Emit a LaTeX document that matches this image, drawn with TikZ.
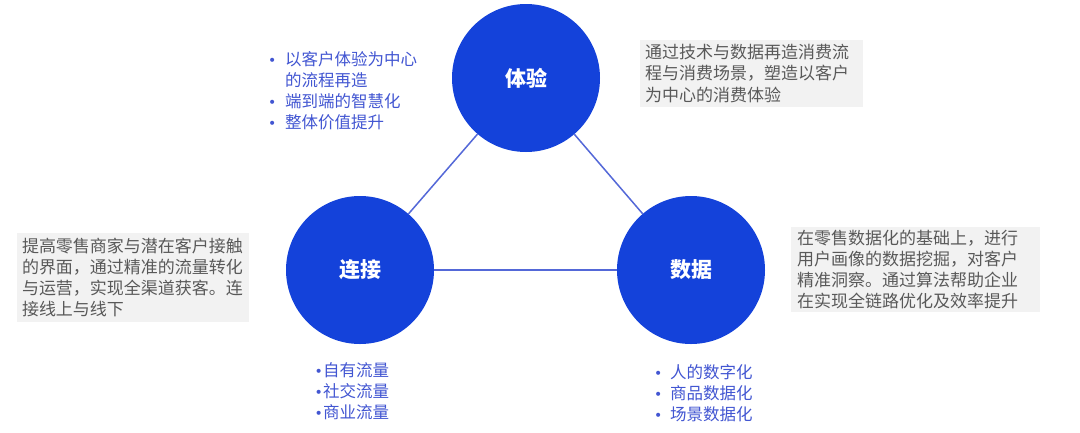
\documentclass[tikz,border=0pt]{standalone}
\usepackage{fontspec}
\setmainfont{Noto Sans CJK SC}
\newfontfamily\bulfont{DejaVu Sans}
\usetikzlibrary{positioning}
\definecolor{hubblue}{RGB}{20,66,218}
\definecolor{linkblue}{RGB}{84,104,216}
\definecolor{listblue}{RGB}{66,86,210}
\definecolor{notegray}{RGB}{242,242,242}
\definecolor{notetext}{RGB}{89,89,89}
\newcommand{\bul}[1]{\makebox[#1][c]{\bulfont\fontsize{14}{14}\selectfont •}}

\begin{document}
\begin{tikzpicture}[
    x=1pt, y=-1pt,
    hub/.style={circle, fill=hubblue, minimum size=148pt, inner sep=0pt,
                text=white, font=\fontsize{21}{21}\selectfont\bfseries},
    note/.style={rectangle, fill=notegray, text=notetext, align=left,
                inner xsep=5pt, inner ysep=0pt, font=\fontsize{17}{21.2}\selectfont},
    pts/.style={anchor=north west, align=left, inner sep=0pt, text=listblue,
                font=\fontsize{16.5}{21}\selectfont},
    link/.style={draw=linkblue, line width=1.5pt}
]
\useasboundingbox (0,0) rectangle (1080,432);
\fill[white] (0,0) rectangle (1080,432);

\node[hub] (exp) at (526,78) {体验};
\node[hub] (conn) at (360,270) {连接};
\node[hub] (data) at (691,270) {数据};

\draw[link] (exp) -- (conn);
\draw[link] (exp) -- (data);
\draw[link] (conn) -- (data);

\node[note, text width=213pt, minimum height=67pt] (expnote) at (751.5,73.5)
  {通过技术与数据再造消费流\\程与消费场景，塑造以客户\\为中心的消费体验};
\node[note, text width=222pt, minimum height=89pt] (connnote) at (133,277.5)
  {提高零售商家与潜在客户接触\\的界面，通过精准的流量转化\\与运营，实现全渠道获客。连\\接线上与线下};
\node[note, inner xsep=6pt, text width=237pt, minimum height=85pt] (datanote) at (915.5,269.5)
  {在零售数据化的基础上，进行\\用户画像的数据挖掘，对客户\\精准洞察。通过算法帮助企业\\在实现全链路优化及效率提升};

\node[pts] (exppts) at (259,51)
  {\bul{26pt}以客户体验为中心\\\hspace*{26pt}的流程再造\\\bul{26pt}端到端的智慧化\\\bul{26pt}整体价值提升};
\node[pts] (connpts) at (314,362.5)
  {\bul{9pt}自有流量\\\bul{9pt}社交流量\\\bul{9pt}商业流量};
\node[pts] (datapts) at (646,364.5)
  {\bul{24pt}人的数字化\\\bul{24pt}商品数据化\\\bul{24pt}场景数据化};
\end{tikzpicture}
\end{document}
